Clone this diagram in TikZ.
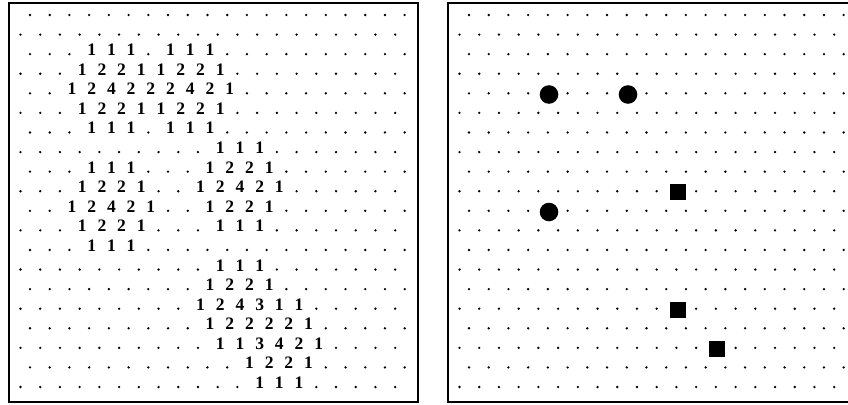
\documentclass[tikz,border=0pt]{standalone}
\usepackage{fontspec}
\setmainfont{Liberation Serif}
\begin{document}
\begin{tikzpicture}[x=1pt,y=-1pt,
  panel/.style={line width=1.6pt},
  griddot/.style={fill=black},
  digit/.style={anchor=base,inner sep=0pt,font=\fontsize{17.5}{17.5}\selectfont\bfseries},
  disc/.style={circle,fill=black,inner sep=0pt,minimum size=18.6pt},
  block/.style={rectangle,fill=black,inner sep=0pt,minimum size=16pt}]
\useasboundingbox (0,0) rectangle (848,404);
% panel frames
\draw[panel] (9,3) rectangle (418,402);
\draw[panel] (849,3) -- (448,3) -- (448,402) -- (849,402);
% left panel: grid of counts
\foreach \r/\cells in {
 0/{.,.,.,.,.,.,.,.,.,.,.,.,.,.,.,.,.,.,.,.},
 1/{.,.,.,.,.,.,.,.,.,.,.,.,.,.,.,.,.,.,.,.},
 2/{.,.,.,1,1,1,.,1,1,1,.,.,.,.,.,.,.,.,.,.},
 3/{.,.,.,1,2,2,1,1,2,2,1,.,.,.,.,.,.,.,.,.},
 4/{.,.,1,2,4,2,2,2,4,2,1,.,.,.,.,.,.,.,.,.},
 5/{.,.,.,1,2,2,1,1,2,2,1,.,.,.,.,.,.,.,.,.},
 6/{.,.,.,1,1,1,.,1,1,1,.,.,.,.,.,.,.,.,.,.},
 7/{.,.,.,.,.,.,.,.,.,.,1,1,1,.,.,.,.,.,.,.},
 8/{.,.,.,1,1,1,.,.,.,1,2,2,1,.,.,.,.,.,.,.},
 9/{.,.,.,1,2,2,1,.,.,1,2,4,2,1,.,.,.,.,.,.},
 10/{.,.,1,2,4,2,1,.,.,1,2,2,1,.,.,.,.,.,.,.},
 11/{.,.,.,1,2,2,1,.,.,.,1,1,1,.,.,.,.,.,.,.},
 12/{.,.,.,1,1,1,.,.,.,.,.,.,.,.,.,.,.,.,.,.},
 13/{.,.,.,.,.,.,.,.,.,.,1,1,1,.,.,.,.,.,.,.},
 14/{.,.,.,.,.,.,.,.,.,1,2,2,1,.,.,.,.,.,.,.},
 15/{.,.,.,.,.,.,.,.,.,1,2,4,3,1,1,.,.,.,.,.},
 16/{.,.,.,.,.,.,.,.,.,1,2,2,2,2,1,.,.,.,.,.},
 17/{.,.,.,.,.,.,.,.,.,.,1,1,3,4,2,1,.,.,.,.},
 18/{.,.,.,.,.,.,.,.,.,.,.,1,2,2,1,.,.,.,.,.},
 19/{.,.,.,.,.,.,.,.,.,.,.,.,1,1,1,.,.,.,.,.}}{
  \pgfmathsetmacro\yy{15+19.58*\r}
  \ifodd\r \def\xs{20.5}\else \def\xs{30}\fi
  \foreach \c [count=\k from 0] in \cells {
    \pgfmathsetmacro\xx{\xs+19.72*\k}
    \if.\c
      \fill[griddot] (\xx,\yy) circle (1.3);
    \else
      \node[digit] (d-\r-\k) at (\xx+2.5,\yy+1.5) {\c};
    \fi
  }
}
% right panel: dot grid
\foreach \r in {0,...,19}{
  \pgfmathsetmacro\yy{15+19.58*\r}
  \ifodd\r \def\xs{459.5}\else \def\xs{469}\fi
  \foreach \k in {0,...,19}{
    \pgfmathsetmacro\xx{\xs+19.72*\k}
    \fill[griddot] (\xx,\yy) circle (1.3);
  }
}
% right panel: peaks
\node[disc] (c1) at (549,94.5) {};
\node[disc] (c2) at (628,94.5) {};
\node[disc] (c3) at (549,212) {};
\node[block] (s1) at (677.5,192) {};
\node[block] (s2) at (677.5,309.5) {};
\node[block] (s3) at (717,348.5) {};
\end{tikzpicture}
\end{document}
